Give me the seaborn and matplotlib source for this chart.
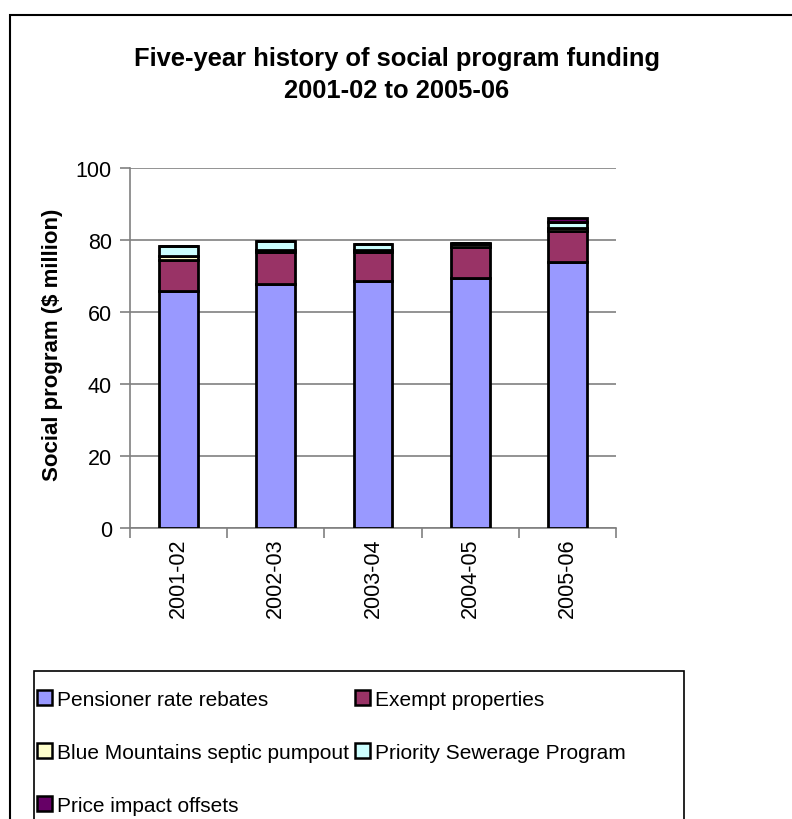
import matplotlib
matplotlib.use("Agg")
import matplotlib.pyplot as plt
import matplotlib.patches as mpatches
from matplotlib.ticker import FixedLocator, NullFormatter
import seaborn as sns
import pandas as pd
import numpy as np

years = ["2001-02", "2002-03", "2003-04", "2004-05", "2005-06"]
pensioner = [65.9, 67.9, 68.7, 69.4, 73.8]
exempt = [8.6, 8.7, 7.9, 8.6, 8.7]
blue_mountains = [1.0, 0.7, 0.7, 0.8, 0.7]
priority_sewerage = [2.8, 2.3, 1.7, 0.3, 1.8]
price_impact = [0.0, 0.0, 0.0, 0.0, 1.2]

series = [
    ("Pensioner rate rebates", pensioner, "#9999FF"),
    ("Exempt properties", exempt, "#993366"),
    ("Blue Mountains septic pumpout", blue_mountains, "#FFFFCC"),
    ("Priority Sewerage Program", priority_sewerage, "#CCFFFF"),
    ("Price impact offsets", price_impact, "#660066"),
]

sns.set_theme(style="white")
plt.rcParams["font.family"] = ["Liberation Sans", "DejaVu Sans"]
plt.rcParams["text.color"] = "black"
plt.rcParams["axes.labelcolor"] = "black"

fig = plt.figure(figsize=(7.92, 8.2), dpi=100)
ax = fig.add_axes([130 / 792, 1 - 529 / 820, 486 / 792, 360 / 820])

bottom = np.zeros(len(years))
handles = []
for name, vals, color in series:
    df = pd.DataFrame({"year": years, "value": vals})
    sns.barplot(data=df, x="year", y="value", color=color, bottom=bottom,
                width=0.4, edgecolor="black", linewidth=2.0, saturation=1,
                ax=ax, zorder=3)
    bottom = bottom + np.array(vals)
    handles.append(mpatches.Patch(facecolor=color, edgecolor="black",
                                  linewidth=1.8, label=name))

ax.set_ylim(0, 100)
ax.set_xlim(-0.5, 4.5)
ax.set_yticks([0, 20, 40, 60, 80, 100])
ax.yaxis.grid(True, color="#808080", linewidth=1.2, zorder=0)
ax.xaxis.grid(False)
for s in ["top", "right"]:
    ax.spines[s].set_visible(False)
for s in ["left", "bottom"]:
    ax.spines[s].set_color("#808080")
    ax.spines[s].set_linewidth(1.2)

ax.tick_params(axis="y", which="major", direction="out", length=7, width=1.2,
               color="#808080", labelcolor="black", labelsize=15.5, pad=6,
               left=True)
ax.tick_params(axis="x", which="major", length=0, labelsize=15.5, pad=7,
               labelcolor="black", labelrotation=90)
ax.xaxis.set_minor_locator(FixedLocator(np.arange(-0.5, 5.0, 1.0)))
ax.xaxis.set_minor_formatter(NullFormatter())
ax.tick_params(axis="x", which="minor", direction="out", length=7, width=1.2,
               color="#808080", bottom=True)
ax.set_xlabel("")
ax.set_ylabel("")
fig.text(53 / 792, 1 - 345 / 820, "Social program ($ million)",
         rotation=90, ha="center", va="center", fontsize=16,
         fontweight="bold")

fig.text(397 / 792, 1 - 75 / 820,
         "Five-year history of social program funding\n2001-02 to 2005-06",
         ha="center", va="center", fontsize=18.4, fontweight="bold",
         linespacing=1.45)

# outer chart frame (only top and left edges fall inside the canvas)
frame = mpatches.Rectangle((10 / 792, -0.1), 1.2, 1 - 16 / 820 + 0.1,
                           transform=fig.transFigure, fill=False,
                           edgecolor="black", linewidth=1.5)
fig.patches.append(frame)

# legend box
legbox = mpatches.Rectangle((34 / 792, -0.1), 650 / 792, 1 - 672 / 820 + 0.1,
                            transform=fig.transFigure, fill=False,
                            edgecolor="black", linewidth=1.2)
fig.patches.append(legbox)

order = [0, 2, 4, 1, 3]
leg = fig.legend([handles[i] for i in order],
                 [series[i][0] for i in order],
                 loc="upper left", bbox_to_anchor=(37 / 792, 1 - 691 / 820),
                 ncol=2, fontsize=15, frameon=False,
                 handlelength=0.7, handleheight=0.7,
                 handletextpad=0.25, columnspacing=0.3, labelspacing=1.63,
                 borderpad=0, borderaxespad=0)

fig.savefig("out.png", dpi=100, facecolor="white")
